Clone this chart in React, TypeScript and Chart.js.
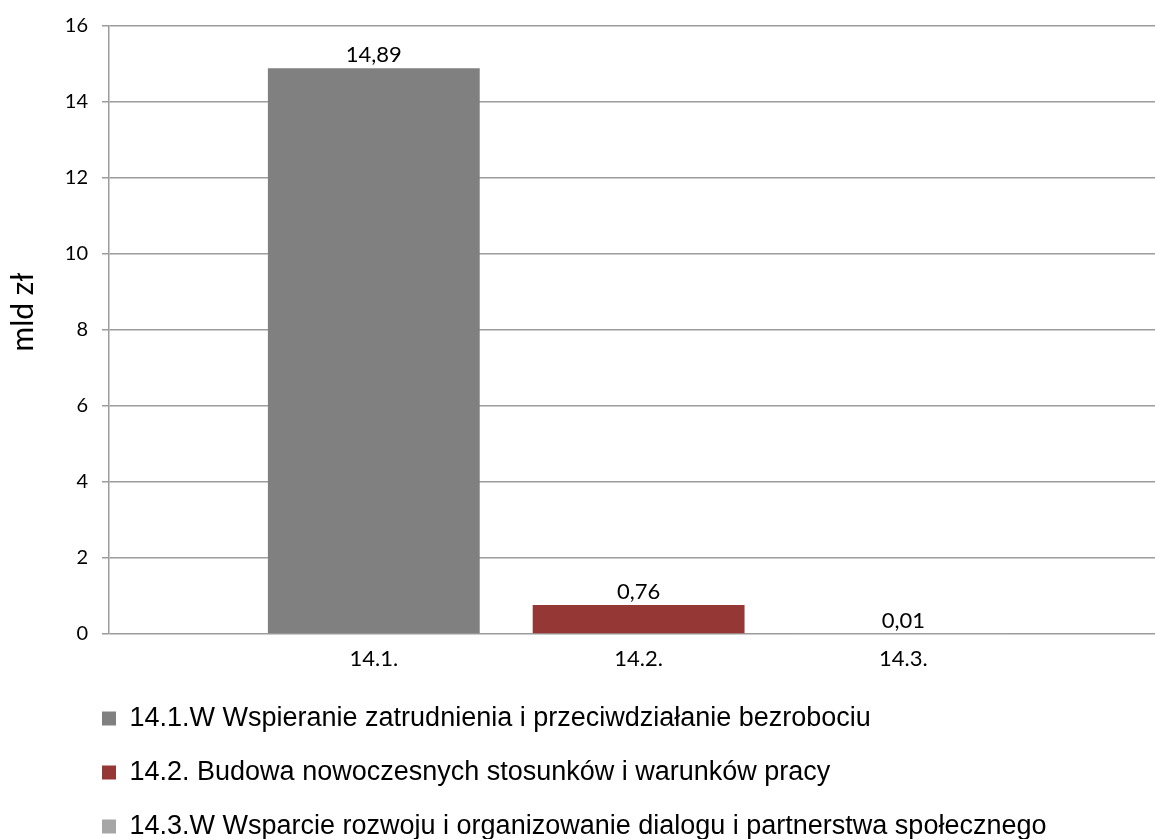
import React, { useEffect, useRef } from 'react';
import { Chart, registerables } from 'chart.js';

Chart.register(...registerables);

// ---- data ----
const categories = ['14.1.', '14.2.', '14.3.'];
const values = [14.89, 0.76, 0.01];
const seriesNames = [
  '14.1.W Wspieranie zatrudnienia i przeciwdziałanie bezrobociu',
  '14.2. Budowa nowoczesnych stosunków i warunków pracy',
  '14.3.W Wsparcie rozwoju i organizowanie dialogu i partnerstwa społecznego',
];
const seriesColors = ['#808080', '#953735', '#A6A6A6'];
const yMin = 0;
const yMax = 16;
const yStep = 2;
const yAxisTitle = 'mld zł';

const GRID = '#9C9C9C';

const valueLabels = {
  id: 'valueLabels',
  afterDatasetsDraw(chart: any) {
    const ctx = chart.ctx;
    ctx.save();
    ctx.font = '22px Lato';
    ctx.fillStyle = '#000';
    ctx.textAlign = 'center';
    ctx.textBaseline = 'alphabetic';
    chart.data.datasets.forEach((ds: any, i: number) => {
      const meta = chart.getDatasetMeta(i);
      meta.data.forEach((el: any, j: number) => {
        const v = ds.data[j].y as number;
        ctx.fillText(v.toFixed(2).replace('.', ','), el.x, el.y - 6);
      });
    });
    ctx.restore();
  },
};

const axisTitle = {
  id: 'axisTitle',
  afterDraw(chart: any) {
    const ctx = chart.ctx;
    const { top, bottom } = chart.chartArea;
    ctx.save();
    ctx.font = '30px Lato';
    ctx.fillStyle = '#000';
    ctx.textAlign = 'center';
    ctx.textBaseline = 'middle';
    ctx.translate(23, (top + bottom) / 2 - 18);
    ctx.rotate(-Math.PI / 2);
    ctx.fillText(yAxisTitle, 0, 0);
    ctx.restore();
  },
};

const legendPlacement = {
  id: 'legendPlacement',
  afterLayout(chart: any) {
    const lg = chart.legend;
    if (!lg) return;
    const pad = lg.options.labels.padding;
    const dx = chart.chartArea.left - 7 - pad - lg.left;
    const dy = 11;
    lg.left += dx;
    lg.right += dx;
    lg.top += dy;
    lg.bottom += dy;
  },
};

export default function App() {
  const ref = useRef<HTMLCanvasElement>(null);

  useEffect(() => {
    const chart = new Chart(ref.current as HTMLCanvasElement, {
      type: 'bar',
      data: {
        datasets: seriesNames.map((name, i) => ({
          label: name,
          data: [{ x: i + 1, y: values[i] }],
          backgroundColor: seriesColors[i],
          borderWidth: 0,
          categoryPercentage: 1,
          barPercentage: 0.8,
        })),
      },
      options: {
        animation: false,
        responsive: true,
        maintainAspectRatio: false,
        layout: { padding: { top: 22, left: 5, right: 0, bottom: 0 } },
        plugins: {
          tooltip: { enabled: false },
          legend: {
            display: true,
            position: 'bottom',
            align: 'start',
            labels: {
              font: { family: 'Liberation Sans', size: 27 },
              color: '#000',
              boxWidth: 14,
              boxHeight: 14,
              padding: 27,
            },
          },
        },
        scales: {
          x: {
            type: 'linear',
            min: 0,
            max: 3.95,
            offset: false,
            stacked: true,
            grid: { display: false, drawTicks: false, offset: false },
            border: { display: false },
            afterBuildTicks: (scale: any) => {
              scale.ticks = categories.map((_, i) => ({ value: i + 1 }));
            },
            afterFit: (scale: any) => {
              scale.height = 33;
            },
            ticks: {
              autoSkip: false,
              maxRotation: 0,
              padding: 12,
              color: '#000',
              font: { family: 'Lato', size: 22 },
              callback: (v: any) => categories[Number(v) - 1] ?? '',
            },
          },
          y: {
            type: 'linear',
            min: yMin,
            max: yMax,
            stacked: true,
            afterFit: (scale: any) => {
              scale.width = 104;
            },
            ticks: {
              stepSize: yStep,
              padding: 14,
              color: '#000',
              font: { family: 'Lato', size: 20 },
            },
            grid: { color: GRID, lineWidth: 1.5, tickLength: 7, drawTicks: true },
            border: { display: true, color: GRID, width: 1.5 },
            title: { display: false },
          },
        },
      },
      plugins: [valueLabels, axisTitle, legendPlacement],
    } as any);
    return () => chart.destroy();
  }, []);

  return (
    <div
      style={{
        position: 'absolute',
        left: 0,
        top: 0,
        width: 1155,
        height: 839,
        background: '#fff',
      }}
    >
      <canvas ref={ref} />
    </div>
  );
}
